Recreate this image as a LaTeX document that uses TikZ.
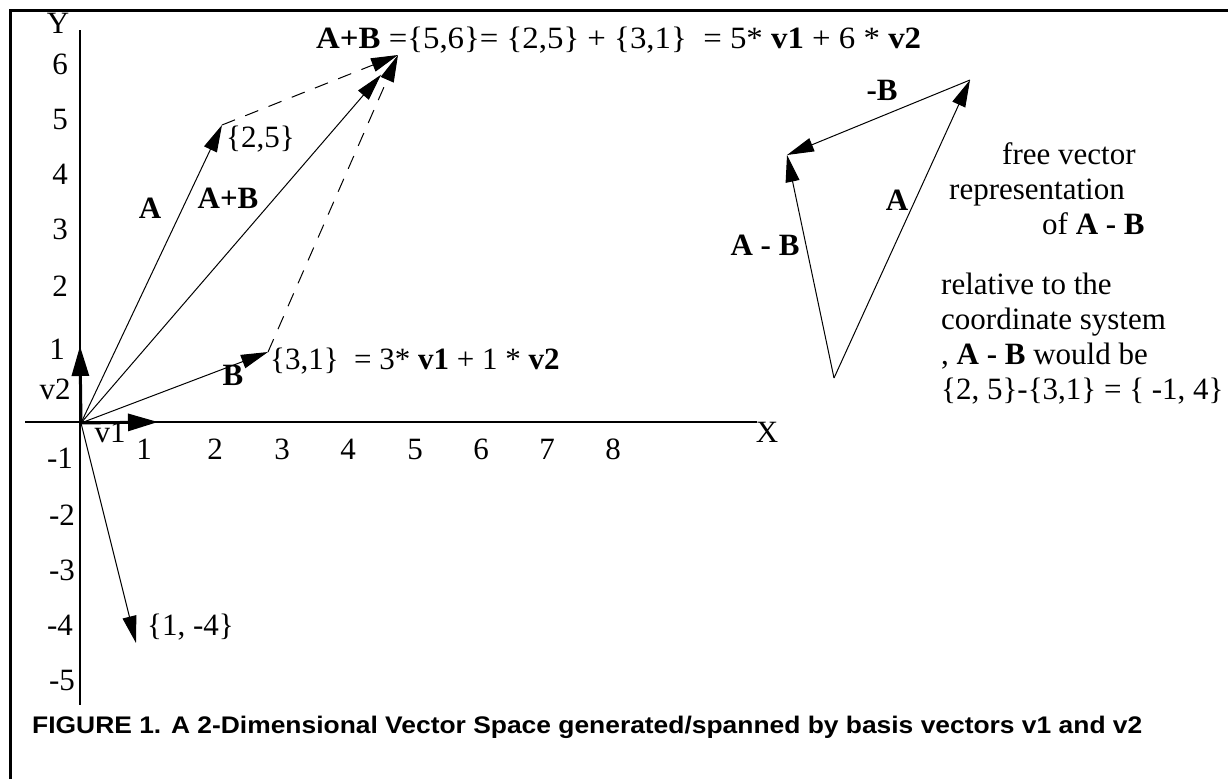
\documentclass[tikz,border=0pt]{standalone}
\usepackage{fontspec}
\setmainfont{Liberation Serif}
\newfontfamily\capfont[FakeStretch=1.1]{Liberation Sans}
\usetikzlibrary{arrows.meta}
\begin{document}
\begin{tikzpicture}[x=1pt,y=-1pt,
  lbl/.style={font=\fontsize{31}{35}\selectfont, inner sep=0pt, anchor=mid},
  lblw/.style={lbl, anchor=mid west},
  blbl/.style={lbl, font=\fontsize{31}{35}\selectfont\bfseries},
  vec/.style={line width=1pt, -{Triangle[length=27pt,width=14pt]}},
  dsh/.style={vec, dash pattern=on 14pt off 11pt},
  basis/.style={line width=3pt, -{Triangle[length=30pt,width=17pt]}},
  axis/.style={line width=2pt},
  frame/.style={line width=3pt},
  capstyle/.style={font=\capfont\bfseries\fontsize{24}{28}\selectfont, inner sep=0pt, anchor=mid west}]
\useasboundingbox (0,0) rectangle (1228,779);
% frame
\coordinate (F1) at (10,779);
\coordinate (F2) at (10,10);
\coordinate (F3) at (1228,10);
\draw[frame] (F1) -- (F2) -- (F3);
% axes
\coordinate (Ya) at (80,30);
\coordinate (Yb) at (80,705);
\coordinate (Xa) at (25,422);
\coordinate (Xb) at (757,422);
\draw[axis] (Ya) -- (Yb);
\draw[axis] (Xa) -- (Xb);
% key points
\coordinate (O) at (81,423);
\coordinate (V1) at (158,422);
\coordinate (V2) at (80,346);
\coordinate (PA) at (222,125);
\coordinate (PB) at (268,352);
\coordinate (PS) at (398,55);
\coordinate (PC) at (136,643);
\coordinate (TB) at (834,378);
\coordinate (TR) at (970,80);
\coordinate (TL) at (787,155);
% axis labels
\node[lbl] (ylab) at (58,31) {Y};
\node[lbl] (y6) at (60,72) {6};
\node[lbl] (y5) at (60,127) {5};
\node[lbl] (y4) at (60,182) {4};
\node[lbl] (y3) at (60,237) {3};
\node[lbl] (y2) at (60,294) {2};
\node[lbl] (y1) at (57,357) {1};
\node[lbl] (v2lab) at (55,397) {v2};
\node[lbl] (ym1) at (60,466) {-1};
\node[lbl] (ym2) at (62,523) {-2};
\node[lbl] (ym3) at (62,578) {-3};
\node[lbl] (ym4) at (60,633) {-4};
\node[lbl] (ym5) at (62,688) {-5};
\node[lbl] (v1lab) at (110,440) {v1};
\node[lbl] (x1) at (144,457) {1};
\node[lbl] (x2) at (215,457) {2};
\node[lbl] (x3) at (282,457) {3};
\node[lbl] (x4) at (348,457) {4};
\node[lbl] (x5) at (415,457) {5};
\node[lbl] (x6) at (481,457) {6};
\node[lbl] (x7) at (547,457) {7};
\node[lbl] (x8) at (613,457) {8};
\node[lbl] (xlab) at (767,440) {X};
% basis vectors
\draw[basis] (O) -- (V1);
\draw[basis] (O) -- (V2);
% vectors
\draw[vec] (O) -- (PA);
\draw[vec] (O) -- (PB);
\draw[vec, shorten >=26pt] (O) -- (PS);
\draw[vec] (O) -- (PC);
\draw[dsh] (PA) -- (PS);
\draw[dsh] (PB) -- (PS);
% vector labels
\node[lblw] (l25) at (226,145) {\{2,5\}};
\node[blbl] (lA) at (150,216) {A};
\node[blbl] (lAB) at (228,206) {A+B};
\node[blbl] (lB) at (233,383) {B};
\node[lblw] (l31) at (270,367) {\{3,1\}\ \ = 3* \textbf{v1} + 1 * \textbf{v2}};
\node[lblw] (l14) at (147,633) {\{1, -4\}};
\node[lblw] (title) at (316,46) {\scalebox{1.06}[1]{\textbf{A+B} =\{5,6\}= \{2,5\} + \{3,1\}\ \ = 5* \textbf{v1} + 6 * \textbf{v2}}};
% free vector triangle
\draw[vec] (TB) -- (TR);
\draw[vec] (TR) -- (TL);
\draw[vec] (TB) -- (TL);
\node[blbl] (tmB) at (882,98) {-B};
\node[blbl] (tA) at (897,208) {A};
\node[blbl] (tAmB) at (765,253) {A - B};
% explanatory text
\node[lblw] (e1) at (1002,162) {free vector};
\node[lblw] (e2) at (949,197) {representation};
\node[lblw] (e3) at (1042,232) {of \textbf{A - B}};
\node[lblw] (e4) at (941,292) {relative to the};
\node[lblw] (e5) at (941,327) {coordinate system};
\node[lblw] (e6) at (941,362) {, \textbf{A - B} would be};
\node[lblw] (e7) at (941,397) {\{2, 5\}-\{3,1\} = \{ -1, 4\}};
% caption
\node[capstyle] (cap) at (32,731) {FIGURE 1. A 2-Dimensional Vector Space generated/spanned by basis vectors v1 and v2};
\end{tikzpicture}
\end{document}
